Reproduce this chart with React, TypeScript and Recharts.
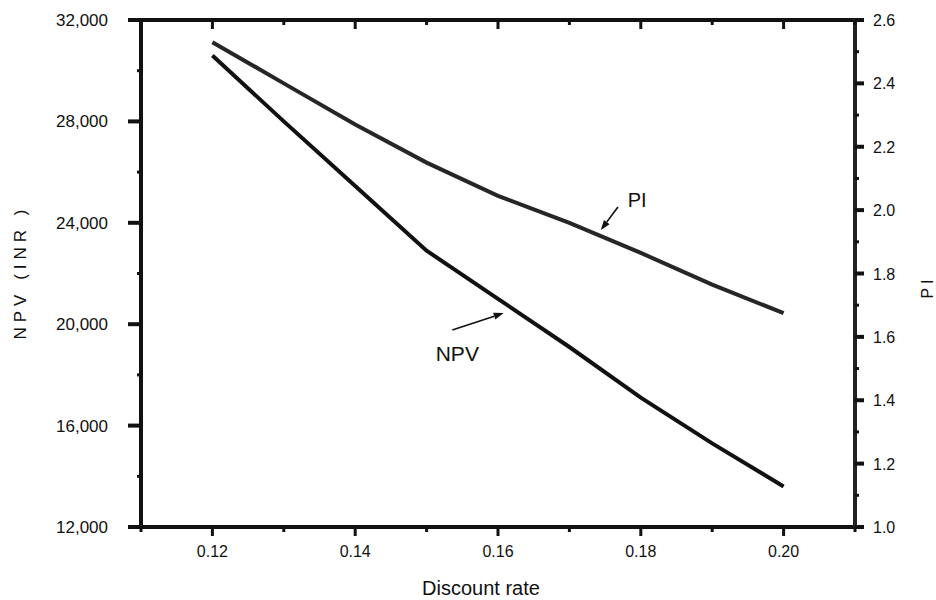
import {
  LineChart,
  Line,
  XAxis,
  YAxis,
  ReferenceLine,
  ReferenceDot,
  Customized,
} from "recharts";

// discount rate vs NPV (INR) and profitability index
const rates = [0.12, 0.13, 0.14, 0.15, 0.16, 0.17, 0.18, 0.19, 0.2];
const npvValues = [30600, 28000, 25450, 22900, 21000, 19100, 17100, 15300, 13600];
const piValues = [2.53, 2.4, 2.27, 2.15, 2.045, 1.96, 1.865, 1.765, 1.675];

const rateTicks = [0.11, 0.12, 0.13, 0.14, 0.15, 0.16, 0.17, 0.18, 0.19, 0.2, 0.21];
const npvTicks = [12000, 14000, 16000, 18000, 20000, 22000, 24000, 26000, 28000, 30000, 32000];
const piTicks = [1.0, 1.1, 1.2, 1.3, 1.4, 1.5, 1.6, 1.7, 1.8, 1.9, 2.0, 2.1, 2.2, 2.3, 2.4, 2.5, 2.6];

const data = rates.map((rate, i) => ({
  rate,
  npv: npvValues[i],
  pi: piValues[i],
}));

const INK = "#111";
const FONT = "'Liberation Sans', Arial, Helvetica, sans-serif";

const BottomTick = (props: any) => {
  const { x, y, payload } = props;
  const v = payload.value as number;
  const major = Math.round(v * 100) % 2 === 0;
  return (
    <g>
      <line x1={x} y1={y} x2={x} y2={y + (major ? 9 : 5)} stroke={INK} strokeWidth={3} />
      {major && (
        <text x={x} y={y + 30} textAnchor="middle" fontSize={16} fill={INK}>
          {v.toFixed(2)}
        </text>
      )}
    </g>
  );
};

const TopTick = (props: any) => {
  const { x, y, payload } = props;
  const major = Math.round(payload.value * 100) % 2 === 0;
  return <line x1={x} y1={y} x2={x} y2={y + (major ? 9 : 5)} stroke={INK} strokeWidth={3} />;
};

const LeftTick = (props: any) => {
  const { x, y, payload } = props;
  const v = payload.value as number;
  const major = v % 4000 === 0;
  return (
    <g>
      <line x1={x} y1={y} x2={x - (major ? 13 : 4)} y2={y} stroke={INK} strokeWidth={major ? 4 : 3} />
      {major && (
        <text x={x - 33} y={y + 6} textAnchor="end" fontSize={17} fill={INK}>
          {v.toLocaleString("en-US")}
        </text>
      )}
    </g>
  );
};

const RightTick = (props: any) => {
  const { x, y, payload } = props;
  const v = payload.value as number;
  const major = Math.round(v * 10) % 2 === 0;
  return (
    <g>
      <line x1={x} y1={y} x2={x + (major ? 9 : 4)} y2={y} stroke={INK} strokeWidth={major ? 4 : 3} />
      {major && (
        <text x={x + 18} y={y + 6} textAnchor="start" fontSize={16} fill={INK}>
          {v.toFixed(1)}
        </text>
      )}
    </g>
  );
};

const Arrow = (props: any) => {
  const { x1, y1, x2, y2 } = props;
  const dx = x2 - x1;
  const dy = y2 - y1;
  const len = Math.hypot(dx, dy) || 1;
  const ux = dx / len;
  const uy = dy / len;
  const hl = 10;
  const hw = 3.5;
  const bx = x2 - ux * hl;
  const by = y2 - uy * hl;
  const pts = `${x2},${y2} ${bx - uy * hw},${by + ux * hw} ${bx + uy * hw},${by - ux * hw}`;
  return (
    <g>
      <line x1={x1} y1={y1} x2={bx} y2={by} stroke={INK} strokeWidth={1.6} />
      <polygon points={pts} fill={INK} />
    </g>
  );
};

const Titles = () => (
  <g fill={INK} fontFamily={FONT}>
    <text x={481} y={595} textAnchor="middle" fontSize={20}>
      Discount rate
    </text>
    <text
      x={26}
      y={272}
      textAnchor="middle"
      fontSize={17}
      letterSpacing={5}
      transform="rotate(-90 26 272)"
    >
      NPV (INR )
    </text>
    <text
      x={933}
      y={287}
      textAnchor="middle"
      fontSize={16}
      letterSpacing={4}
      transform="rotate(-90 933 287)"
    >
      PI
    </text>
  </g>
);

const axisLine = { stroke: INK, strokeWidth: 4, strokeLinecap: "square" as const };

export default function App() {
  return (
    <div style={{ position: "absolute", left: 0, top: 0, fontFamily: FONT, background: "#fff" }}>
      <LineChart
        width={936}
        height={600}
        data={data}
        margin={{ top: 19, right: 20, left: 41, bottom: 23 }}
      >
        <XAxis
          dataKey="rate"
          type="number"
          domain={[0.11, 0.21]}
          ticks={rateTicks}
          interval={0}
          height={50}
          tickSize={0}
          tickMargin={0}
          tickLine={false}
          tick={<BottomTick />}
          axisLine={axisLine}
        />
        <XAxis
          xAxisId="top"
          orientation="top"
          dataKey="rate"
          type="number"
          domain={[0.11, 0.21]}
          ticks={rateTicks}
          interval={0}
          height={1}
          tickSize={0}
          tickMargin={0}
          tickLine={false}
          tick={<TopTick />}
          axisLine={axisLine}
        />
        <YAxis
          yAxisId="npv"
          domain={[12000, 32000]}
          ticks={npvTicks}
          interval={0}
          width={100}
          tickSize={0}
          tickMargin={0}
          tickLine={false}
          tick={<LeftTick />}
          axisLine={axisLine}
        />
        <YAxis
          yAxisId="pi"
          orientation="right"
          domain={[1.0, 2.6]}
          ticks={piTicks}
          interval={0}
          width={61}
          tickSize={0}
          tickMargin={0}
          tickLine={false}
          tick={<RightTick />}
          axisLine={{ ...axisLine, stroke: "#222" }}
        />
        <Line
          yAxisId="npv"
          type="linear"
          dataKey="npv"
          stroke={INK}
          strokeWidth={4}
          dot={false}
          isAnimationActive={false}
        />
        <Line
          yAxisId="pi"
          type="linear"
          dataKey="pi"
          stroke="#262626"
          strokeWidth={4}
          dot={false}
          isAnimationActive={false}
        />
        <ReferenceLine
          yAxisId="pi"
          segment={[
            { x: 0.1768, y: 2.01 },
            { x: 0.1744, y: 1.937 },
          ]}
          shape={(p: any) => <Arrow {...p} />}
        />
        <ReferenceLine
          yAxisId="npv"
          segment={[
            { x: 0.1536, y: 19770 },
            { x: 0.1608, y: 20440 },
          ]}
          shape={(p: any) => <Arrow {...p} />}
        />
        <ReferenceDot
          yAxisId="pi"
          x={0.1795}
          y={2.031}
          r={0}
          shape={(p: any) => (
            <text x={p.cx} y={p.cy + 7} textAnchor="middle" fontSize={20} fill={INK}>
              PI
            </text>
          )}
        />
        <ReferenceDot
          yAxisId="npv"
          x={0.1543}
          y={18870}
          r={0}
          shape={(p: any) => (
            <text x={p.cx} y={p.cy + 8} textAnchor="middle" fontSize={21} fill={INK}>
              NPV
            </text>
          )}
        />
        <Customized component={Titles} />
      </LineChart>
    </div>
  );
}
